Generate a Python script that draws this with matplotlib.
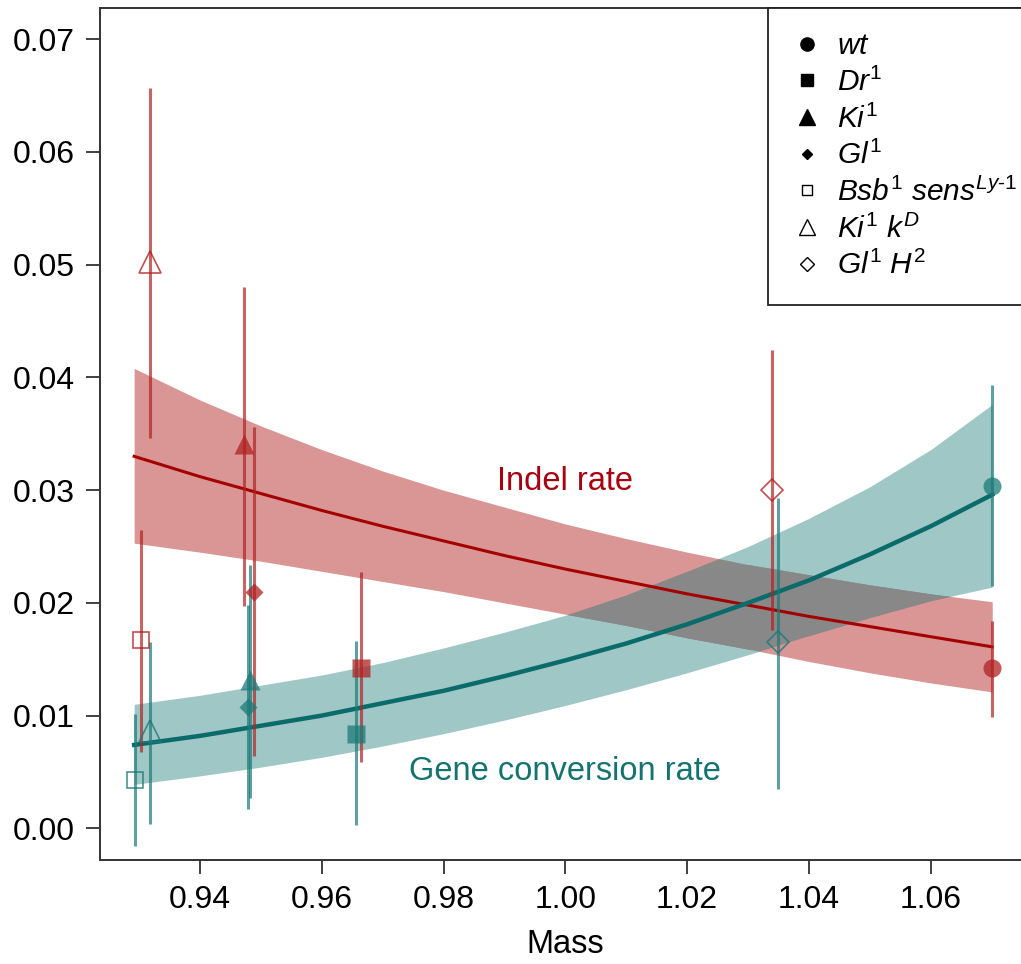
import matplotlib
matplotlib.use("Agg")
import matplotlib.pyplot as plt
from matplotlib.lines import Line2D
import numpy as np

plt.rcParams["font.family"] = ["Liberation Sans", "DejaVu Sans"]
plt.rcParams["mathtext.fontset"] = "custom"
plt.rcParams["mathtext.rm"] = "Liberation Sans"
plt.rcParams["mathtext.it"] = "Liberation Sans:italic"

# genotypes (legend order)
genotypes = [r"$wt$", r"$Dr^1$", r"$Ki^1$", r"$Gl^1$",
             r"$Bsb^1\ sens^{Ly\text{-}1}$", r"$Ki^1\ k^D$", r"$Gl^1\ H^2$"]

# indel rate per genotype
mass_indel = [1.0701, 0.9664, 0.9472, 0.9488, 0.9303, 0.9318, 1.0340]
indel_rate = [0.0142, 0.0142, 0.0341, 0.0210, 0.0167, 0.0502, 0.0300]
indel_lo = [0.0099, 0.0059, 0.0197, 0.0064, 0.0068, 0.0346, 0.0176]
indel_hi = [0.0184, 0.0227, 0.0480, 0.0356, 0.0265, 0.0657, 0.0424]

# gene conversion rate per genotype
mass_gc = [1.0701, 0.9656, 0.9483, 0.9479, 0.9293, 0.9318, 1.0350]
gc_rate = [0.0304, 0.0084, 0.0132, 0.0108, 0.0043, 0.0086, 0.0165]
gc_lo = [0.0215, 0.0003, 0.0027, 0.0017, -0.0016, 0.0004, 0.0035]
gc_hi = [0.0393, 0.0166, 0.0234, 0.0198, 0.0101, 0.0165, 0.0293]

# fitted curves with confidence bands
mass_grid = [0.9292, 0.94, 0.95, 0.96, 0.97, 0.98, 0.99, 1.00,
             1.01, 1.02, 1.03, 1.04, 1.05, 1.06, 1.0701]
indel_fit = [0.0330, 0.0312, 0.0297, 0.0282, 0.0268, 0.0255, 0.0242, 0.0230,
             0.0219, 0.0208, 0.0198, 0.0188, 0.0179, 0.0170, 0.0161]
indel_fit_hi = [0.0408, 0.0380, 0.0357, 0.0336, 0.0317, 0.0300, 0.0285, 0.0270,
                0.0257, 0.0245, 0.0234, 0.0225, 0.0216, 0.0208, 0.0201]
indel_fit_lo = [0.0253, 0.0245, 0.0237, 0.0228, 0.0219, 0.0210, 0.0200, 0.0190,
                0.0180, 0.0169, 0.0159, 0.0148, 0.0138, 0.0129, 0.0121]
gc_fit = [0.0074, 0.0082, 0.0091, 0.0100, 0.0111, 0.0122, 0.0135, 0.0149,
          0.0164, 0.0181, 0.0200, 0.0220, 0.0243, 0.0268, 0.0296]
gc_fit_hi = [0.0110, 0.0118, 0.0127, 0.0136, 0.0147, 0.0160, 0.0174, 0.0189,
             0.0207, 0.0228, 0.0250, 0.0275, 0.0303, 0.0336, 0.0376]
gc_fit_lo = [0.0039, 0.00465, 0.00543, 0.0063, 0.0073, 0.0084, 0.0096, 0.0109,
             0.0123, 0.0138, 0.0154, 0.0171, 0.0187, 0.0202, 0.0214]

RED = "#B22222"
TEAL = "#1B7A78"
RED_LINE = "#A50000"
TEAL_LINE = "#0A6B6B"

markers = ["o", "s", "^", "D", "s", "^", "D"]
filled = [True, True, True, True, False, False, False]
msizes = [13, 12.5, 15, 8.7, 11.5, 16, 11.7]
leg_sizes = [9.5, 8.5, 11, 5.2, 7.5, 12, 6.8]

fig = plt.figure(figsize=(10.21, 9.64), dpi=100)
ax = fig.add_axes([0.098, 0.108, 0.912, 0.884])

x = np.array(mass_grid)
ax.fill_between(x, indel_fit_lo, indel_fit_hi, color=RED, alpha=0.48, lw=0)
ax.fill_between(x, gc_fit_lo, gc_fit_hi, color=TEAL, alpha=0.42, lw=0)
ov_lo = np.maximum(indel_fit_lo, gc_fit_lo)
ov_hi = np.minimum(indel_fit_hi, gc_fit_hi)
ax.fill_between(x, ov_lo, ov_hi, where=ov_hi > ov_lo, interpolate=True,
                color="#888888", lw=0)

ax.plot(x, indel_fit, color=RED_LINE, lw=2.2)
ax.plot(x, gc_fit, color=TEAL_LINE, lw=3.2)

ax.vlines(mass_indel, indel_lo, indel_hi, color=RED, alpha=0.7, lw=2.2)
ax.vlines(mass_gc, gc_lo, gc_hi, color=TEAL, alpha=0.7, lw=2.2)

for i in range(len(genotypes)):
    for mx, val, col in [(mass_indel[i], indel_rate[i], RED), (mass_gc[i], gc_rate[i], TEAL)]:
        if filled[i]:
            ax.plot(mx, val, marker=markers[i], ms=msizes[i], color=col,
                    mec="none", alpha=0.75, ls="none")
        else:
            ax.plot(mx, val, marker=markers[i], ms=msizes[i], mfc="none",
                    mec=col, mew=1.2, alpha=0.8, ls="none")

ax.text(1.00, 0.0308, "Indel rate", color="#A8000F", fontsize=23.5,
        ha="center", va="center")
ax.text(1.00, 0.0050, "Gene conversion rate", color="#137370", fontsize=23.5,
        ha="center", va="center")

ax.set_xlim(0.9236, 1.0765)
ax.set_ylim(-0.0028, 0.0728)
ax.set_xticks([0.94, 0.96, 0.98, 1.00, 1.02, 1.04, 1.06])
ax.set_xticklabels(["0.94", "0.96", "0.98", "1.00", "1.02", "1.04", "1.06"])
ax.set_yticks([0.00, 0.01, 0.02, 0.03, 0.04, 0.05, 0.06, 0.07])
ax.set_yticklabels(["0.00", "0.01", "0.02", "0.03", "0.04", "0.05", "0.06", "0.07"])
ax.tick_params(labelsize=23, length=10, width=1.3, color="#333333", pad=8)
for s in ax.spines.values():
    s.set_color("#333333")
    s.set_linewidth(1.4)
ax.set_xlabel("Mass", fontsize=23.5, labelpad=10)

handles = []
for i in range(len(genotypes)):
    handles.append(Line2D([], [], marker=markers[i], ls="none", color="black",
                          mfc="black" if filled[i] else "none", mec="black",
                          mew=1.0, ms=leg_sizes[i]))
leg = ax.legend(handles, genotypes, loc="upper right", bbox_to_anchor=(1.012, 1.0),
                fontsize=21.5, borderaxespad=0, fancybox=False, edgecolor="#222222",
                framealpha=1, handlelength=1.0, handletextpad=0.52,
                labelspacing=0.25, borderpad=0.82)
leg.get_frame().set_linewidth(1.3)

fig.savefig("out.png", dpi=100)
